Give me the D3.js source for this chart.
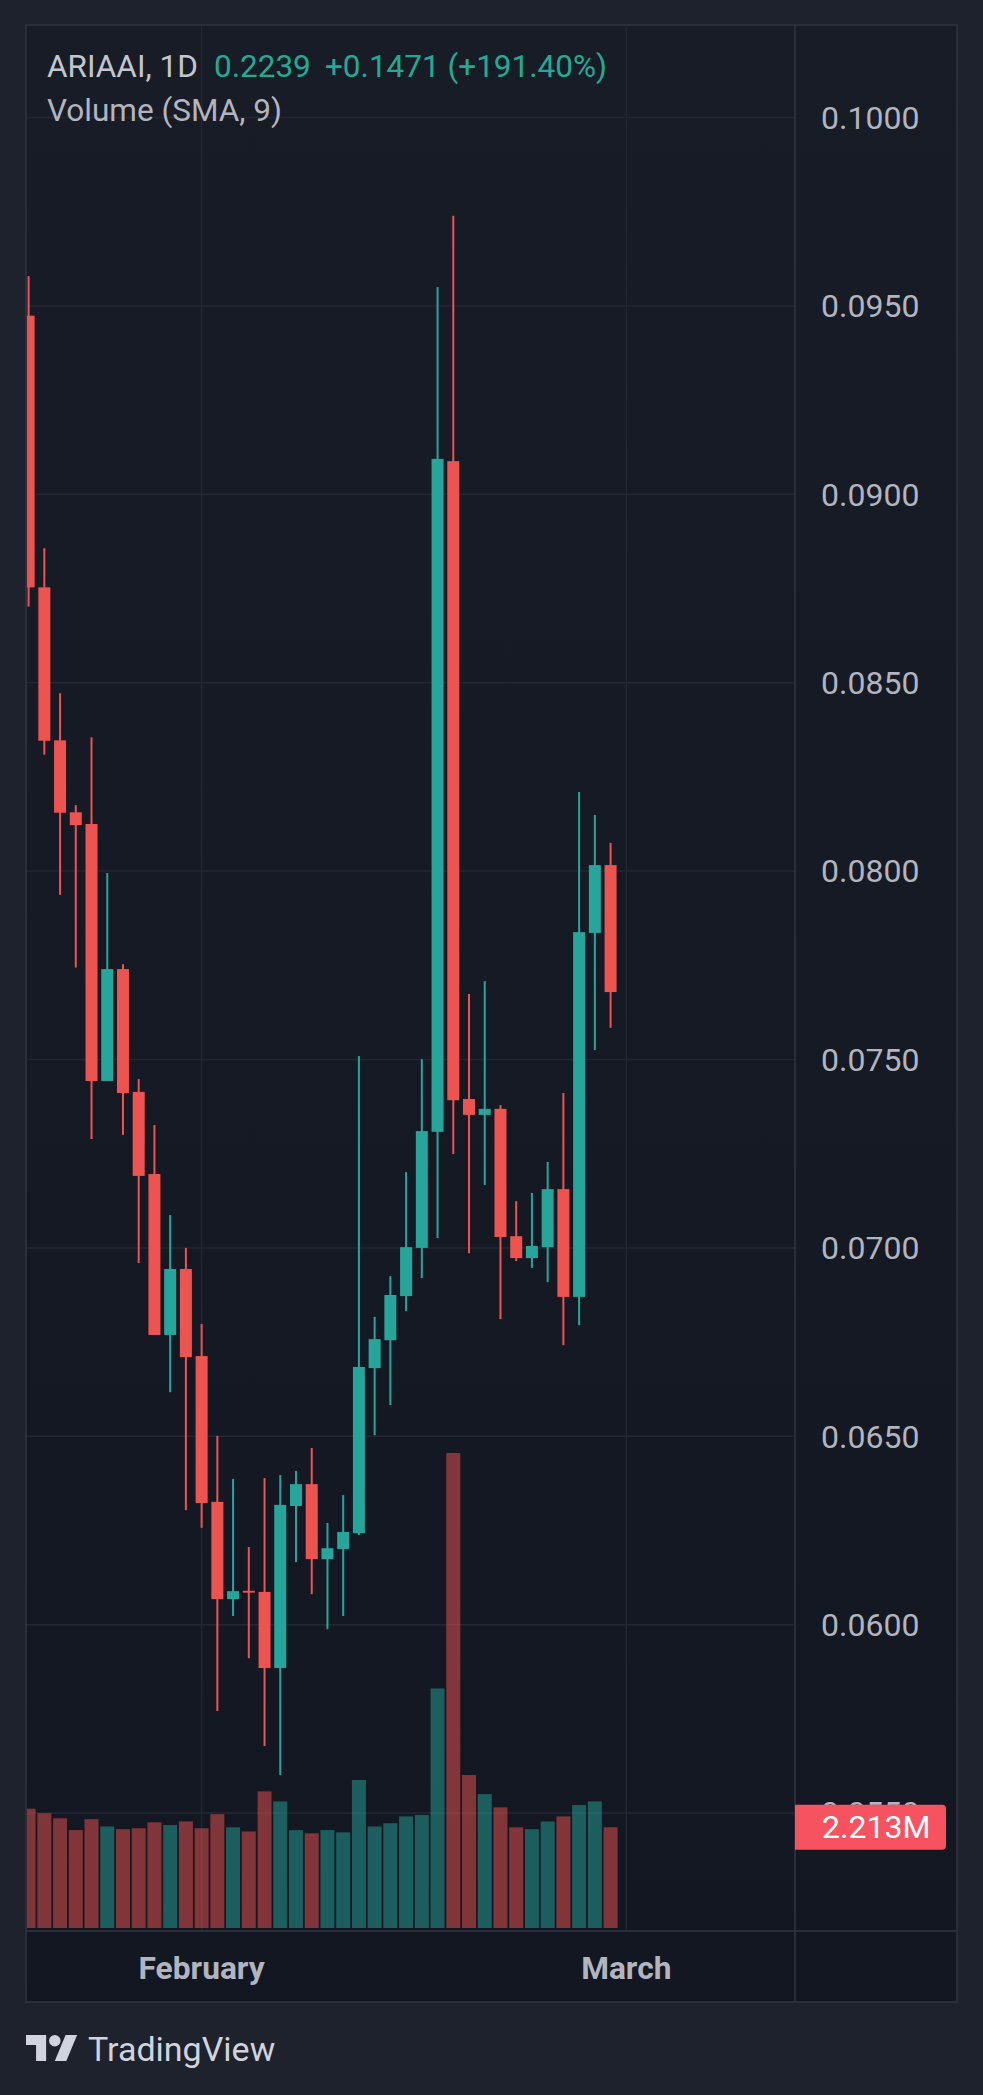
<!DOCTYPE html>
<html lang="en">
<head>
<meta charset="UTF-8">
<title>ARIAAI, 1D</title>
<style>
  html, body { margin: 0; padding: 0; background: #1e222d; overflow: hidden; }
  svg { display: block; }
  text { font-family: Roboto, "Noto Sans", sans-serif; }
</style>
</head>
<body>
<div id="chart"></div>
<script src="https://cdn.jsdelivr.net/npm/d3@7"></script>
<script>
// daily candles, first visible bar is slot 0
const opens  = [0.09474, 0.08753, 0.08347, 0.08156, 0.08125, 0.07443, 0.07740, 0.07414, 0.07196, 0.06769,
                0.06944, 0.06713, 0.06326, 0.06068, 0.06090, 0.06087, 0.05885, 0.06315, 0.06373, 0.06174,
                0.06201, 0.06243, 0.06681, 0.06755, 0.06872, 0.07000, 0.07308, 0.09088, 0.07395, 0.07353,
                0.07369, 0.07031, 0.06973, 0.07002, 0.07156, 0.06870, 0.07836, 0.08016];
const highs  = [0.09579, 0.08857, 0.08472, 0.08175, 0.08355, 0.07995, 0.07753, 0.07448, 0.07326, 0.07087,
                0.07000, 0.06798, 0.06501, 0.06387, 0.06206, 0.06389, 0.06397, 0.06408, 0.06469, 0.06270,
                0.06344, 0.07509, 0.06817, 0.06925, 0.07201, 0.07501, 0.09550, 0.09739, 0.07674, 0.07708,
                0.07379, 0.07124, 0.07146, 0.07228, 0.07411, 0.08210, 0.08149, 0.08075];
const lows   = [0.08702, 0.08309, 0.07937, 0.07744, 0.07289, 0.07443, 0.07300, 0.06960, 0.06769, 0.06617,
                0.06304, 0.06257, 0.05771, 0.06023, 0.05911, 0.05678, 0.05601, 0.06166, 0.06081, 0.05988,
                0.06023, 0.06238, 0.06503, 0.06583, 0.06832, 0.06920, 0.07026, 0.07249, 0.06986, 0.07167,
                0.06811, 0.06965, 0.06947, 0.06909, 0.06742, 0.06795, 0.07525, 0.07584];
const closes = [0.08753, 0.08346, 0.08155, 0.08122, 0.07443, 0.07740, 0.07411, 0.07191, 0.06769, 0.06944,
                0.06710, 0.06323, 0.06068, 0.06089, 0.06085, 0.05885, 0.06318, 0.06373, 0.06174, 0.06203,
                0.06246, 0.06684, 0.06758, 0.06875, 0.07002, 0.07310, 0.09094, 0.07392, 0.07353, 0.07369,
                0.07029, 0.06973, 0.07005, 0.07156, 0.06870, 0.07838, 0.08016, 0.07679];
// volume in millions
const volumes = [2.62, 2.52, 2.41, 2.15, 2.39, 2.23, 2.17, 2.19, 2.32, 2.26,
                 2.34, 2.19, 2.50, 2.21, 2.12, 3.00, 2.78, 2.15, 2.08, 2.15,
                 2.10, 3.25, 2.23, 2.30, 2.45, 2.48, 5.26, 10.43, 3.36, 2.94,
                 2.65, 2.21, 2.17, 2.34, 2.45, 2.70, 2.78, 2.213];

const priceTicks = [0.1000, 0.0950, 0.0900, 0.0850, 0.0800, 0.0750, 0.0700, 0.0650, 0.0600, 0.0550];
const timeTickSlots = [11, 38];
const timeTickLabels = ["February", "March"];

const W = 983, H = 2095;
const frame = { left: 26, top: 25, right: 957, bottom: 2002 };
const paneRight = 795, paneBottom = 1931;
const up = "#26a69a", down = "#ef5350";

const x = d3.scaleLinear().domain([0, 38]).range([28.6, 626.3]);
const y = d3.scaleLinear().domain([0.055, 0.1]).range([1813.1, 117.5]);
const vy = d3.scaleLinear().domain([0, d3.max(volumes)]).range([1928, 1453]);

const data = opens.map((o, i) => ({ i, o, h: highs[i], l: lows[i], c: closes[i], v: volumes[i] }));

const svg = d3.select("#chart").append("svg").attr("width", W).attr("height", H);
const defs = svg.append("defs");
const grad = defs.append("linearGradient").attr("id", "bg")
  .attr("gradientUnits", "userSpaceOnUse")
  .attr("x1", 0).attr("y1", frame.top).attr("x2", 0).attr("y2", frame.bottom);
grad.append("stop").attr("offset", 0).attr("stop-color", "#181c27");
grad.append("stop").attr("offset", 1).attr("stop-color", "#131722");
defs.append("clipPath").attr("id", "pane").append("rect")
  .attr("x", frame.left).attr("y", frame.top)
  .attr("width", paneRight - frame.left).attr("height", paneBottom - frame.top);

svg.append("rect").attr("width", W).attr("height", H).attr("fill", "#1e222d");
svg.append("rect")
  .attr("x", frame.left).attr("y", frame.top)
  .attr("width", frame.right - frame.left).attr("height", frame.bottom - frame.top)
  .attr("fill", "url(#bg)");

// grid
const grid = svg.append("g").attr("stroke", "#232733").attr("stroke-width", 1.5);
grid.selectAll("line.h").data(priceTicks).join("line")
  .attr("x1", frame.left).attr("x2", paneRight)
  .attr("y1", d => y(d)).attr("y2", d => y(d));
grid.selectAll("line.v").data(timeTickSlots).join("line")
  .attr("y1", frame.top).attr("y2", paneBottom)
  .attr("x1", d => x(d)).attr("x2", d => x(d));

const plot = svg.append("g").attr("clip-path", "url(#pane)");

// volume
plot.append("g").selectAll("rect").data(data).join("rect")
  .attr("x", d => x(d.i) - 7).attr("width", 14)
  .attr("y", d => vy(d.v)).attr("height", d => vy(0) - vy(d.v))
  .attr("fill", d => d.c >= d.o ? up : down)
  .attr("fill-opacity", 0.5);

// candles
const candle = plot.append("g").selectAll("g").data(data).join("g")
  .attr("fill", d => d.c >= d.o ? up : down);
candle.append("rect")
  .attr("x", d => x(d.i) - 1).attr("width", 2)
  .attr("y", d => y(d.h)).attr("height", d => y(d.l) - y(d.h));
candle.append("rect")
  .attr("x", d => x(d.i) - 6).attr("width", 12)
  .attr("y", d => y(Math.max(d.o, d.c)))
  .attr("height", d => Math.max(1.3, Math.abs(y(d.o) - y(d.c))));

// frame lines
const border = svg.append("g").attr("stroke", "#2a2e39").attr("stroke-width", 2).attr("fill", "none");
border.append("rect")
  .attr("x", frame.left).attr("y", frame.top)
  .attr("width", frame.right - frame.left).attr("height", frame.bottom - frame.top);
border.append("line").attr("x1", paneRight).attr("x2", paneRight).attr("y1", frame.top).attr("y2", frame.bottom);
border.append("line").attr("x1", frame.left).attr("x2", frame.right).attr("y1", paneBottom).attr("y2", paneBottom);

// price scale
svg.append("g").selectAll("text").data(priceTicks).join("text")
  .attr("x", 821).attr("y", d => y(d)).attr("dy", "0.35em")
  .attr("font-size", 32).attr("fill", "#b2b5be")
  .text(d3.format(".4f"));

// time scale
svg.append("g").selectAll("text").data(timeTickSlots).join("text")
  .attr("x", d => x(d)).attr("y", 1968).attr("dy", "0.35em")
  .attr("text-anchor", "middle").attr("font-size", 31.7).attr("font-weight", "bold")
  .attr("fill", "#b2b5be")
  .text((d, i) => timeTickLabels[i]);

// last volume label
const last = data[data.length - 1];
const lab = svg.append("g").attr("transform", `translate(795,${vy(last.v)})`);
lab.append("path")
  .attr("d", "M0,-22.5 H147 a4,4 0 0 1 4,4 V18.5 a4,4 0 0 1 -4,4 H0 Z")
  .attr("fill", "#f7525f");
lab.append("text").attr("x", 27).attr("dy", "0.35em")
  .attr("font-size", 32).attr("fill", "#ffffff")
  .text(d3.format(".3f")(last.v) + "M");

// legend
const legendFont = 31.5;
svg.append("text").attr("x", 47).attr("y", 77).attr("font-size", legendFont).attr("fill", "#c3c6ce").text("ARIAAI, 1D");
svg.append("text").attr("x", 214).attr("y", 77).attr("font-size", legendFont).attr("fill", "#22ab94").text("0.2239");
svg.append("text").attr("x", 325).attr("y", 77).attr("font-size", legendFont).attr("fill", "#22ab94").text("+0.1471 (+191.40%)");
svg.append("text").attr("x", 47).attr("y", 121).attr("font-size", legendFont).attr("fill", "#b2b5be").text("Volume (SMA, 9)");

// watermark
const logo = svg.append("g").attr("fill", "#d1d4dc");
logo.append("g").attr("transform", "translate(26,2029.2) scale(1.44)").call(g => {
  g.append("path").attr("d", "M14 22H7V11H0V4h14v18zM28 22h-8l7.5-18h8L28 22z");
  g.append("circle").attr("cx", 20).attr("cy", 8).attr("r", 4);
});
logo.append("text").attr("x", 88).attr("y", 2061).attr("font-size", 34).text("TradingView");
</script>
</body>
</html>
